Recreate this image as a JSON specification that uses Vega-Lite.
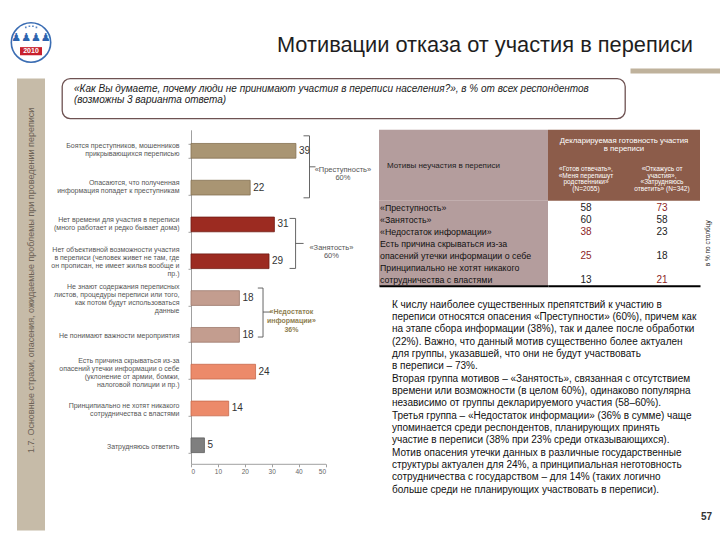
{
  "$schema": "https://vega.github.io/schema/vega-lite/v6.json",
  "background": "white",
  "padding": {"left": 7, "top": 17, "right": 0, "bottom": 0},
  "spacing": 4.4,
  "config": {
    "view": {"stroke": null},
    "font": "Liberation Sans",
    "text": {"font": "Liberation Sans"},
    "axis": {"labelFont": "Liberation Sans"}
  },
  "datasets": {
    "bars": [
      {"motive": "Боятся преступников, мошенников|прикрывающихся переписью", "group": "Преступность", "pct": 39},
      {"motive": "Опасаются, что полученная|информация попадет к преступникам", "group": "Преступность", "pct": 22},
      {"motive": "Нет времени для участия в переписи|(много работает и редко бывает дома)", "group": "Занятость", "pct": 31},
      {"motive": "Нет объективной возможности участия|в переписи (человек живет не там, где|он прописан, не имеет жилья вообще и|пр.)", "group": "Занятость", "pct": 29},
      {"motive": "Не знают содержания переписных|листов, процедуры переписи или того,|как потом будут использоваться|данные", "group": "Недостаток информации", "pct": 18},
      {"motive": "Не понимают важности мероприятия", "group": "Недостаток информации", "pct": 18},
      {"motive": "Есть причина скрываться из-за|опасений утечки информации о себе|(уклонение от армии, бомжи,|налоговой полиции и пр.)", "group": "Опасения", "pct": 24},
      {"motive": "Принципиально не хотят никакого|сотрудничества с властями", "group": "Опасения", "pct": 14},
      {"motive": "Затрудняюсь ответить", "group": "Затрудняюсь", "pct": 5}
    ],
    "brackets": [
      {"motive": "Боятся преступников, мошенников|прикрывающихся переписью", "group": "Преступность", "top": 39, "label": "«Преступность»\n60%"},
      {"motive": "Нет времени для участия в переписи|(много работает и редко бывает дома)", "group": "Занятость", "top": 31, "label": "«Занятость»\n60%"},
      {"motive": "Не знают содержания переписных|листов, процедуры переписи или того,|как потом будут использоваться|данные", "group": "Недостаток информации", "top": 18, "label": "«Недостаток\nинформации»\n36%"}
    ],
    "tableHead": [
      {"col": "ready", "text": "«Готов отвечать»,\n«Меня перепишут\nродственники»\n(N=2055)"},
      {"col": "refuse", "text": "«Откажусь от\nучастия»,\n«Затрудняюсь\nответить» (N=342)"}
    ],
    "tableRows": [
      {"slot": 1, "text": "«Преступность»"},
      {"slot": 2, "text": "«Занятость»"},
      {"slot": 3, "text": "«Недостаток информации»"},
      {"slot": 4, "text": "Есть причина скрываться из-за"},
      {"slot": 5, "text": "опасений утечки информации о себе"},
      {"slot": 6, "text": "Принципиально не хотят никакого"},
      {"slot": 7, "text": "сотрудничества с властями"}
    ],
    "tableValues": [
      {"slot": 1, "col": "ready", "value": 58, "higher": "no"},
      {"slot": 1, "col": "refuse", "value": 73, "higher": "yes"},
      {"slot": 2, "col": "ready", "value": 60, "higher": "no"},
      {"slot": 2, "col": "refuse", "value": 58, "higher": "no"},
      {"slot": 3, "col": "ready", "value": 38, "higher": "yes"},
      {"slot": 3, "col": "refuse", "value": 23, "higher": "no"},
      {"slot": 5, "col": "ready", "value": 25, "higher": "yes"},
      {"slot": 5, "col": "refuse", "value": 18, "higher": "no"},
      {"slot": 7, "col": "ready", "value": 13, "higher": "no"},
      {"slot": 7, "col": "refuse", "value": 21, "higher": "yes"}
    ],
    "paragraph": [
      {"line": 1, "text": "К числу наиболее существенных препятствий к участию в"},
      {"line": 2, "text": "переписи относятся опасения «Преступности» (60%), причем как"},
      {"line": 3, "text": "на этапе сбора информации (38%), так и далее после обработки"},
      {"line": 4, "text": "(22%). Важно, что данный мотив существенно более актуален"},
      {"line": 5, "text": "для группы, указавшей, что они не будут участвовать"},
      {"line": 6, "text": " в переписи – 73%."},
      {"line": 7, "text": "Вторая группа мотивов – «Занятость», связанная с отсутствием"},
      {"line": 8, "text": "времени или возможности (в целом 60%), одинаково популярна"},
      {"line": 9, "text": "независимо от группы декларируемого участия (58–60%)."},
      {"line": 10, "text": "Третья группа – «Недостаток информации» (36% в сумме) чаще"},
      {"line": 11, "text": "упоминается среди респондентов, планирующих принять"},
      {"line": 12, "text": "участие в переписи (38% при 23% среди отказывающихся)."},
      {"line": 13, "text": "Мотив опасения утечки данных в различные государственные"},
      {"line": 14, "text": "структуры актуален для 24%, а принципиальная неготовность"},
      {"line": 15, "text": "сотрудничества с государством – для 14% (таких логично"},
      {"line": 16, "text": "больше среди не  планирующих участвовать в переписи)."}
    ]
  },
  "vconcat": [
    {
      "bounds": "flush",
      "spacing": 0,
      "hconcat": [
        {
          "width": 48,
          "height": 51,
          "data": {"values": [{}]},
          "layer": [
            {"mark": {"type": "circle", "size": 1550, "fill": "white", "stroke": "#3b6db3", "strokeWidth": 1.6, "opacity": 1}, "encoding": {}},
            {"mark": {"type": "point", "filled": true, "size": 484, "color": "#5b88c6", "opacity": 1,
                      "shape": "M-0.55,-1.45L-0.4,-1.45L-0.4,-1.3L-0.55,-1.3Z M-0.22,-1.55L-0.07,-1.55L-0.07,-1.4L-0.22,-1.4Z M0.1,-1.55L0.25,-1.55L0.25,-1.4L0.1,-1.4Z M0.42,-1.45L0.57,-1.45L0.57,-1.3L0.42,-1.3Z"}, "encoding": {}},
            {"mark": {"type": "text", "text": "♟♟♟♟", "font": "DejaVu Sans", "fontSize": 11, "color": "#2d63ae", "dy": -5}, "encoding": {}},
            {"mark": {"type": "point", "filled": true, "size": 484, "color": "#c8202c", "opacity": 1,
                      "shape": "M-1,0.42L1,0.42L1,1.16L-1,1.16Z"}, "encoding": {}},
            {"mark": {"type": "text", "text": "2010", "fontSize": 7, "fontWeight": "bold", "color": "white", "dy": 8.7}, "encoding": {}}
          ]
        },
        {"width": 575, "height": 51, "data": {"values": [{}]}, "mark": {"type": "point", "opacity": 0}, "encoding": {}},
        {
          "width": 90,
          "height": 53.5,
          "data": {"values": [{"t": "Мотивации отказа от участия в переписи"}]},
          "mark": {"type": "text", "align": "right", "baseline": "middle", "fontSize": 21.8, "color": "#1e1e1e", "dx": -27, "dy": 1.5},
          "encoding": {
            "text": {"field": "t"},
            "x": {"datum": 1, "type": "quantitative", "scale": {"domain": [0, 1]},
                  "axis": {"orient": "bottom", "domain": true, "domainColor": "#bfb29c", "domainWidth": 5, "domainCap": "butt", "ticks": false, "labels": false, "title": null, "grid": false}}
          }
        }
      ]
    },
    {
      "spacing": 2,
      "hconcat": [
        {"width": 8, "height": 1, "data": {"values": [{}]}, "mark": {"type": "point", "opacity": 0}, "encoding": {}},
        {
          "width": 28,
          "height": 452,
          "view": {"fill": "#c6bba8", "stroke": null},
          "data": {"values": [{"t": "1.7. Основные страхи, опасения, ожидаемые проблемы при проведении переписи"}]},
          "mark": {"type": "text", "angle": 270, "baseline": "middle", "fontSize": 9, "color": "#6d6256", "dx": 24},
          "encoding": {"text": {"field": "t"}}
        },
        {
          "spacing": 10.4,
          "vconcat": [
            {
              "bounds": "flush",
              "spacing": 0,
              "hconcat": [
                {"width": 15, "height": 40, "data": {"values": [{}]}, "mark": {"type": "point", "opacity": 0}, "encoding": {}},
                {
                  "width": 563,
                  "height": 40,
                  "view": {"stroke": "#6e5252", "strokeWidth": 1.3, "cornerRadius": 8, "fill": "white"},
                  "data": {"values": [{"t": "«Как Вы думаете, почему люди не принимают участия в переписи населения?», в % от всех респондентов\n(возможны 3 варианта ответа)"}]},
                  "mark": {"type": "text", "align": "left", "baseline": "middle", "fontStyle": "italic", "fontSize": 10, "lineBreak": "\n", "lineHeight": 11, "color": "#222", "dx": 12, "dy": -9},
                  "encoding": {
                    "text": {"field": "t"},
                    "x": {"datum": 0, "type": "quantitative", "scale": {"domain": [0, 1]}, "axis": null}
                  }
                }
              ]
            },
            {
              "spacing": 7,
              "hconcat": [
                {
                  "width": 132.5,
                  "height": 334,
                  "data": {"name": "bars"},
                  "encoding": {
                    "text": {"field": "motive"},
                    "y": {
                      "field": "motive", "type": "nominal", "sort": null, "axis": null,
                      "scale": {
                        "domain": [
                          "Боятся преступников, мошенников|прикрывающихся переписью",
                          "Опасаются, что полученная|информация попадет к преступникам",
                          "Нет времени для участия в переписи|(много работает и редко бывает дома)",
                          "Нет объективной возможности участия|в переписи (человек живет не там, где|он прописан, не имеет жилья вообще и|пр.)",
                          "Не знают содержания переписных|листов, процедуры переписи или того,|как потом будут использоваться|данные",
                          "Не понимают важности мероприятия",
                          "Есть причина скрываться из-за|опасений утечки информации о себе|(уклонение от армии, бомжи,|налоговой полиции и пр.)",
                          "Принципиально не хотят никакого|сотрудничества с властями",
                          "Затрудняюсь ответить"
                        ],
                        "paddingInner": 0.6, "paddingOuter": 0.3375, "align": 0.55
                      }
                    },
                    "x": {"datum": 1, "type": "quantitative", "scale": {"domain": [0, 1]}, "axis": null}
                  },
                  "layer": [
                    {
                      "transform": [{"filter": "length(split(datum.motive, '|')) === 1"}],
                      "mark": {"type": "text", "align": "right", "baseline": "middle", "lineBreak": "|", "fontSize": 7, "lineHeight": 8, "color": "#555"}
                    },
                    {
                      "transform": [{"filter": "length(split(datum.motive, '|')) === 2"}],
                      "mark": {"type": "text", "align": "right", "baseline": "middle", "lineBreak": "|", "fontSize": 7, "lineHeight": 8, "color": "#555", "dy": -4}
                    },
                    {
                      "transform": [{"filter": "length(split(datum.motive, '|')) === 4"}],
                      "mark": {"type": "text", "align": "right", "baseline": "middle", "lineBreak": "|", "fontSize": 7, "lineHeight": 8, "color": "#555", "dy": -12}
                    }
                  ]
                },
                {
                  "width": 134.5,
                  "height": 334,
                  "data": {"name": "bars"},
                  "encoding": {
                    "y": {
                      "field": "motive", "type": "nominal", "sort": null, "title": null,
                      "scale": {
                        "domain": [
                          "Боятся преступников, мошенников|прикрывающихся переписью",
                          "Опасаются, что полученная|информация попадет к преступникам",
                          "Нет времени для участия в переписи|(много работает и редко бывает дома)",
                          "Нет объективной возможности участия|в переписи (человек живет не там, где|он прописан, не имеет жилья вообще и|пр.)",
                          "Не знают содержания переписных|листов, процедуры переписи или того,|как потом будут использоваться|данные",
                          "Не понимают важности мероприятия",
                          "Есть причина скрываться из-за|опасений утечки информации о себе|(уклонение от армии, бомжи,|налоговой полиции и пр.)",
                          "Принципиально не хотят никакого|сотрудничества с властями",
                          "Затрудняюсь ответить"
                        ],
                        "paddingInner": 0.6, "paddingOuter": 0.3375, "align": 0.55
                      },
                      "axis": {"labels": false, "tickSize": 3, "tickBand": "extent", "tickColor": "#a0a0a0", "domainColor": "#a0a0a0", "grid": false, "title": null}
                    },
                    "x": {
                      "field": "pct", "type": "quantitative", "title": null,
                      "scale": {"domain": [0, 50]},
                      "axis": {
                        "values": [0, 10, 20, 30, 40, 50], "labelFontSize": 6.5, "labelColor": "#666",
                        "tickSize": 3, "tickColor": "#a0a0a0", "domainColor": "#a0a0a0", "grid": false, "labelPadding": 2, "title": null
                      }
                    }
                  },
                  "layer": [
                    {
                      "mark": {"type": "bar", "strokeWidth": 0.8},
                      "encoding": {
                        "color": {"field": "group", "type": "nominal", "legend": null,
                          "scale": {"domain": ["Преступность", "Занятость", "Недостаток информации", "Опасения", "Затрудняюсь"],
                                    "range": ["#a99573", "#9c2b21", "#c39d8f", "#ec8a6a", "#7f7f7f"]}},
                        "stroke": {"field": "group", "type": "nominal", "legend": null,
                          "scale": {"domain": ["Преступность", "Занятость", "Недостаток информации", "Опасения", "Затрудняюсь"],
                                    "range": ["#857152", "#701a13", "#9d7a6d", "#c76a4d", "#5f5f5f"]}}
                      }
                    },
                    {
                      "mark": {"type": "text", "align": "left", "baseline": "middle", "dx": 3, "fontSize": 10, "color": "#333"},
                      "encoding": {"text": {"field": "pct", "type": "quantitative"}}
                    },
                    {
                      "data": {"name": "brackets"},
                      "mark": {"type": "point", "filled": false, "size": 6400, "color": "#555", "strokeWidth": 0.9, "opacity": 1},
                      "encoding": {
                        "x": {"field": "top", "type": "quantitative"},
                        "shape": {"field": "group", "type": "nominal", "legend": null,
                          "scale": {"domain": ["Преступность", "Занятость", "Недостаток информации"],
                                    "range": [
                                      "M0.19,-0.375L0.34,-0.375L0.34,1.175L0.19,1.175M0.34,0.4L0.49,0.4",
                                      "M0.38,-0.15L0.53,-0.15L0.53,1.1L0.38,1.1M0.53,0.475L0.73,0.475",
                                      "M0.46,-0.25L0.59,-0.25L0.59,0.975L0.46,0.975M0.59,0.35L0.8,0.35"
                                    ]}}
                      }
                    },
                    {
                      "data": {"name": "brackets"},
                      "transform": [{"filter": "datum.group === 'Преступность'"}],
                      "mark": {"type": "text", "align": "center", "baseline": "middle", "lineBreak": "\n", "lineHeight": 8, "fontSize": 7.5, "color": "#555", "dx": 47, "dy": 19.5},
                      "encoding": {"x": {"field": "top", "type": "quantitative"}, "text": {"field": "label"}}
                    },
                    {
                      "data": {"name": "brackets"},
                      "transform": [{"filter": "datum.group === 'Занятость'"}],
                      "mark": {"type": "text", "align": "center", "baseline": "middle", "lineBreak": "\n", "lineHeight": 8.5, "fontSize": 7.5, "color": "#555", "dx": 57, "dy": 23.2},
                      "encoding": {"x": {"field": "top", "type": "quantitative"}, "text": {"field": "label"}}
                    },
                    {
                      "data": {"name": "brackets"},
                      "transform": [{"filter": "datum.group === 'Недостаток информации'"}],
                      "mark": {"type": "text", "align": "center", "baseline": "middle", "lineBreak": "\n", "lineHeight": 8.8, "fontSize": 7, "fontWeight": "bold", "color": "#8f7f52", "dx": 52, "dy": 14.2},
                      "encoding": {"x": {"field": "top", "type": "quantitative"}, "text": {"field": "label"}}
                    }
                  ]
                },
                {
                  "spacing": 0,
                  "vconcat": [
                    {
                      "bounds": "flush",
                      "spacing": 0,
                      "hconcat": [
                        {
                          "width": 169,
                          "height": 71,
                          "view": {"fill": "#b49d9d", "stroke": null},
                          "data": {"values": [{"t": "Мотивы неучастия в переписи"}]},
                          "mark": {"type": "text", "align": "left", "baseline": "middle", "fontSize": 8, "color": "#222", "dx": 8, "dy": 1},
                          "encoding": {
                            "text": {"field": "t"},
                            "x": {"datum": 0, "type": "quantitative", "scale": {"domain": [0, 1]}, "axis": null}
                          }
                        },
                        {
                          "width": 152,
                          "height": 71,
                          "view": {"fill": "#8c5c4a", "stroke": null},
                          "layer": [
                            {
                              "data": {"values": [{"t": "Декларируемая готовность участия\nв переписи"}]},
                              "mark": {"type": "text", "baseline": "middle", "lineBreak": "\n", "fontSize": 7.8, "lineHeight": 8.5, "color": "white", "dy": -24.5},
                              "encoding": {"text": {"field": "t"}}
                            },
                            {
                              "data": {"name": "tableHead"},
                              "mark": {"type": "text", "baseline": "middle", "lineBreak": "\n", "fontSize": 6.5, "lineHeight": 6.8, "color": "white", "dy": 3.5},
                              "encoding": {
                                "text": {"field": "text"},
                                "x": {"field": "col", "type": "nominal", "scale": {"domain": ["ready", "refuse"], "paddingInner": 0, "paddingOuter": 0}, "axis": null}
                              }
                            }
                          ]
                        }
                      ]
                    },
                    {
                      "bounds": "flush",
                      "spacing": 0,
                      "hconcat": [
                        {
                          "width": 169,
                          "height": 85,
                          "view": {"fill": "#b49d9d", "stroke": null},
                          "data": {"name": "tableRows"},
                          "mark": {"type": "text", "align": "left", "baseline": "middle", "fontSize": 8.8, "color": "#111", "dx": 1},
                          "encoding": {
                            "text": {"field": "text"},
                            "y": {"field": "slot", "type": "ordinal", "scale": {"type": "point", "domain": [1, 2, 3, 4, 5, 6, 7], "padding": 0.512, "align": 0.565}, "axis": null},
                            "x": {"datum": 0, "type": "quantitative", "scale": {"domain": [0, 1]},
                                  "axis": {"orient": "bottom", "domain": true, "domainColor": "#000", "domainWidth": 2, "ticks": false, "labels": false, "title": null, "grid": false}}
                          }
                        },
                        {
                          "width": 152,
                          "height": 85,
                          "data": {"name": "tableValues"},
                          "mark": {"type": "text", "baseline": "middle", "fontSize": 10},
                          "encoding": {
                            "text": {"field": "value", "type": "quantitative"},
                            "y": {"field": "slot", "type": "ordinal", "scale": {"type": "point", "domain": [1, 2, 3, 4, 5, 6, 7], "padding": 0.512, "align": 0.565}, "axis": null},
                            "x": {"field": "col", "type": "nominal", "scale": {"domain": ["ready", "refuse"], "paddingInner": 0, "paddingOuter": 0},
                                  "axis": {"orient": "bottom", "domain": true, "domainColor": "#000", "domainWidth": 2, "ticks": false, "labels": false, "title": null, "grid": false}},
                            "fill": {"field": "higher", "type": "nominal", "legend": null, "scale": {"domain": ["no", "yes"], "range": ["#222222", "#8e1f1f"]}}
                          }
                        },
                        {
                          "width": 15,
                          "height": 85,
                          "data": {"values": [{"t": "в % по столбцу"}]},
                          "mark": {"type": "text", "angle": 270, "baseline": "middle", "fontSize": 6.5, "color": "#222"},
                          "encoding": {"text": {"field": "t"}}
                        }
                      ]
                    },
                    {
                      "width": 323,
                      "height": 209.7,
                      "data": {"name": "paragraph"},
                      "mark": {"type": "text", "align": "left", "baseline": "middle", "fontSize": 10, "color": "#111", "dx": 13},
                      "encoding": {
                        "text": {"field": "text"},
                        "y": {"field": "line", "type": "ordinal", "scale": {"type": "point", "domain": [1, 2, 3, 4, 5, 6, 7, 8, 9, 10, 11, 12, 13, 14, 15, 16], "padding": 1, "align": 0.77}, "axis": null},
                        "x": {"datum": 0, "type": "quantitative", "scale": {"domain": [0, 1]}, "axis": null}
                      }
                    },
                    {
                      "width": 333,
                      "height": 43,
                      "data": {"values": [{"t": "57"}]},
                      "mark": {"type": "text", "align": "right", "baseline": "middle", "fontSize": 10, "fontWeight": "bold", "color": "#333"},
                      "encoding": {"text": {"field": "t"}, "x": {"datum": 1, "type": "quantitative", "scale": {"domain": [0, 1]}, "axis": null}}
                    }
                  ]
                }
              ]
            }
          ]
        }
      ]
    }
  ]
}
